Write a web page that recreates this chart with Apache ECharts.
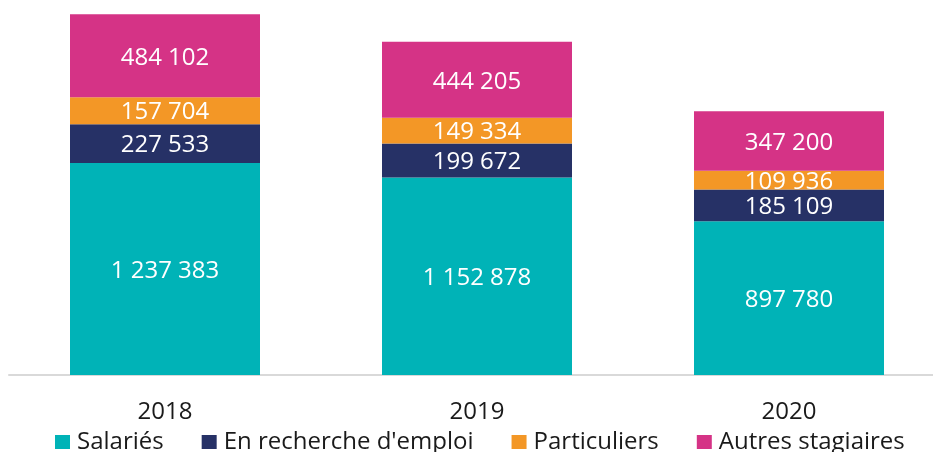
<!DOCTYPE html>
<html>
<head>
<meta charset="utf-8">
<script src="https://cdn.jsdelivr.net/npm/echarts@6/dist/echarts.min.js"></script>
<style>
  html, body { margin: 0; padding: 0; background: #fff; overflow: hidden; }
  /* the axis runs past the right edge in the original, so the canvas is a bit wider than the window */
  #chart { width: 945px; height: 452px; }
</style>
</head>
<body>
<div id="chart"></div>
<script>
const years = ['2018', '2019', '2020'];
const salaries = [1237383, 1152878, 897780];
const enRecherche = [227533, 199672, 185109];
const particuliers = [157704, 149334, 109936];
const autres = [484102, 444205, 347200];

const seriesNames = ['Salariés', "En recherche d'emploi", 'Particuliers', 'Autres stagiaires'];
const seriesColors = ['#00b3b7', '#263166', '#f39726', '#d53386'];
const seriesData = [salaries, enRecherche, particuliers, autres];

// format 1237383 -> "1 237 383"
const fmt = (v) => String(v).replace(/\B(?=(\d{3})+(?!\d))/g, ' ');

const chart = echarts.init(document.getElementById('chart'));

const option = {
  animation: false,
  textStyle: { fontFamily: 'Open Sans' },
  grid: {
    left: 9,
    right: 0,
    top: 0,
    bottom: 77
  },
  legend: {
    left: 50,
    top: 425,
    icon: 'rect',
    itemWidth: 15,
    itemHeight: 14,
    itemGap: 38,
    textStyle: {
      fontFamily: 'Open Sans',
      fontSize: 24,
      color: '#1a1a1a',
      padding: [0, 0, 0, 2]
    },
    data: seriesNames
  },
  xAxis: {
    type: 'category',
    data: years,
    axisLine: { lineStyle: { color: '#d9d9d9', width: 2 } },
    axisTick: { show: false },
    axisLabel: {
      margin: 25,
      fontFamily: 'Open Sans',
      fontSize: 24,
      color: '#1a1a1a'
    }
  },
  yAxis: {
    type: 'value',
    min: 0,
    max: 2190000,
    show: false,
    splitLine: { show: false }
  },
  series: seriesNames.map((name, i) => ({
    name,
    type: 'bar',
    stack: 'total',
    barWidth: 190,
    data: seriesData[i],
    itemStyle: { color: seriesColors[i] },
    label: {
      show: true,
      position: 'inside',
      offset: [0, 2],
      color: '#fff',
      fontFamily: 'Open Sans',
      fontSize: 24,
      formatter: (p) => fmt(p.value)
    }
  }))
};

chart.setOption(option);
</script>
</body>
</html>
